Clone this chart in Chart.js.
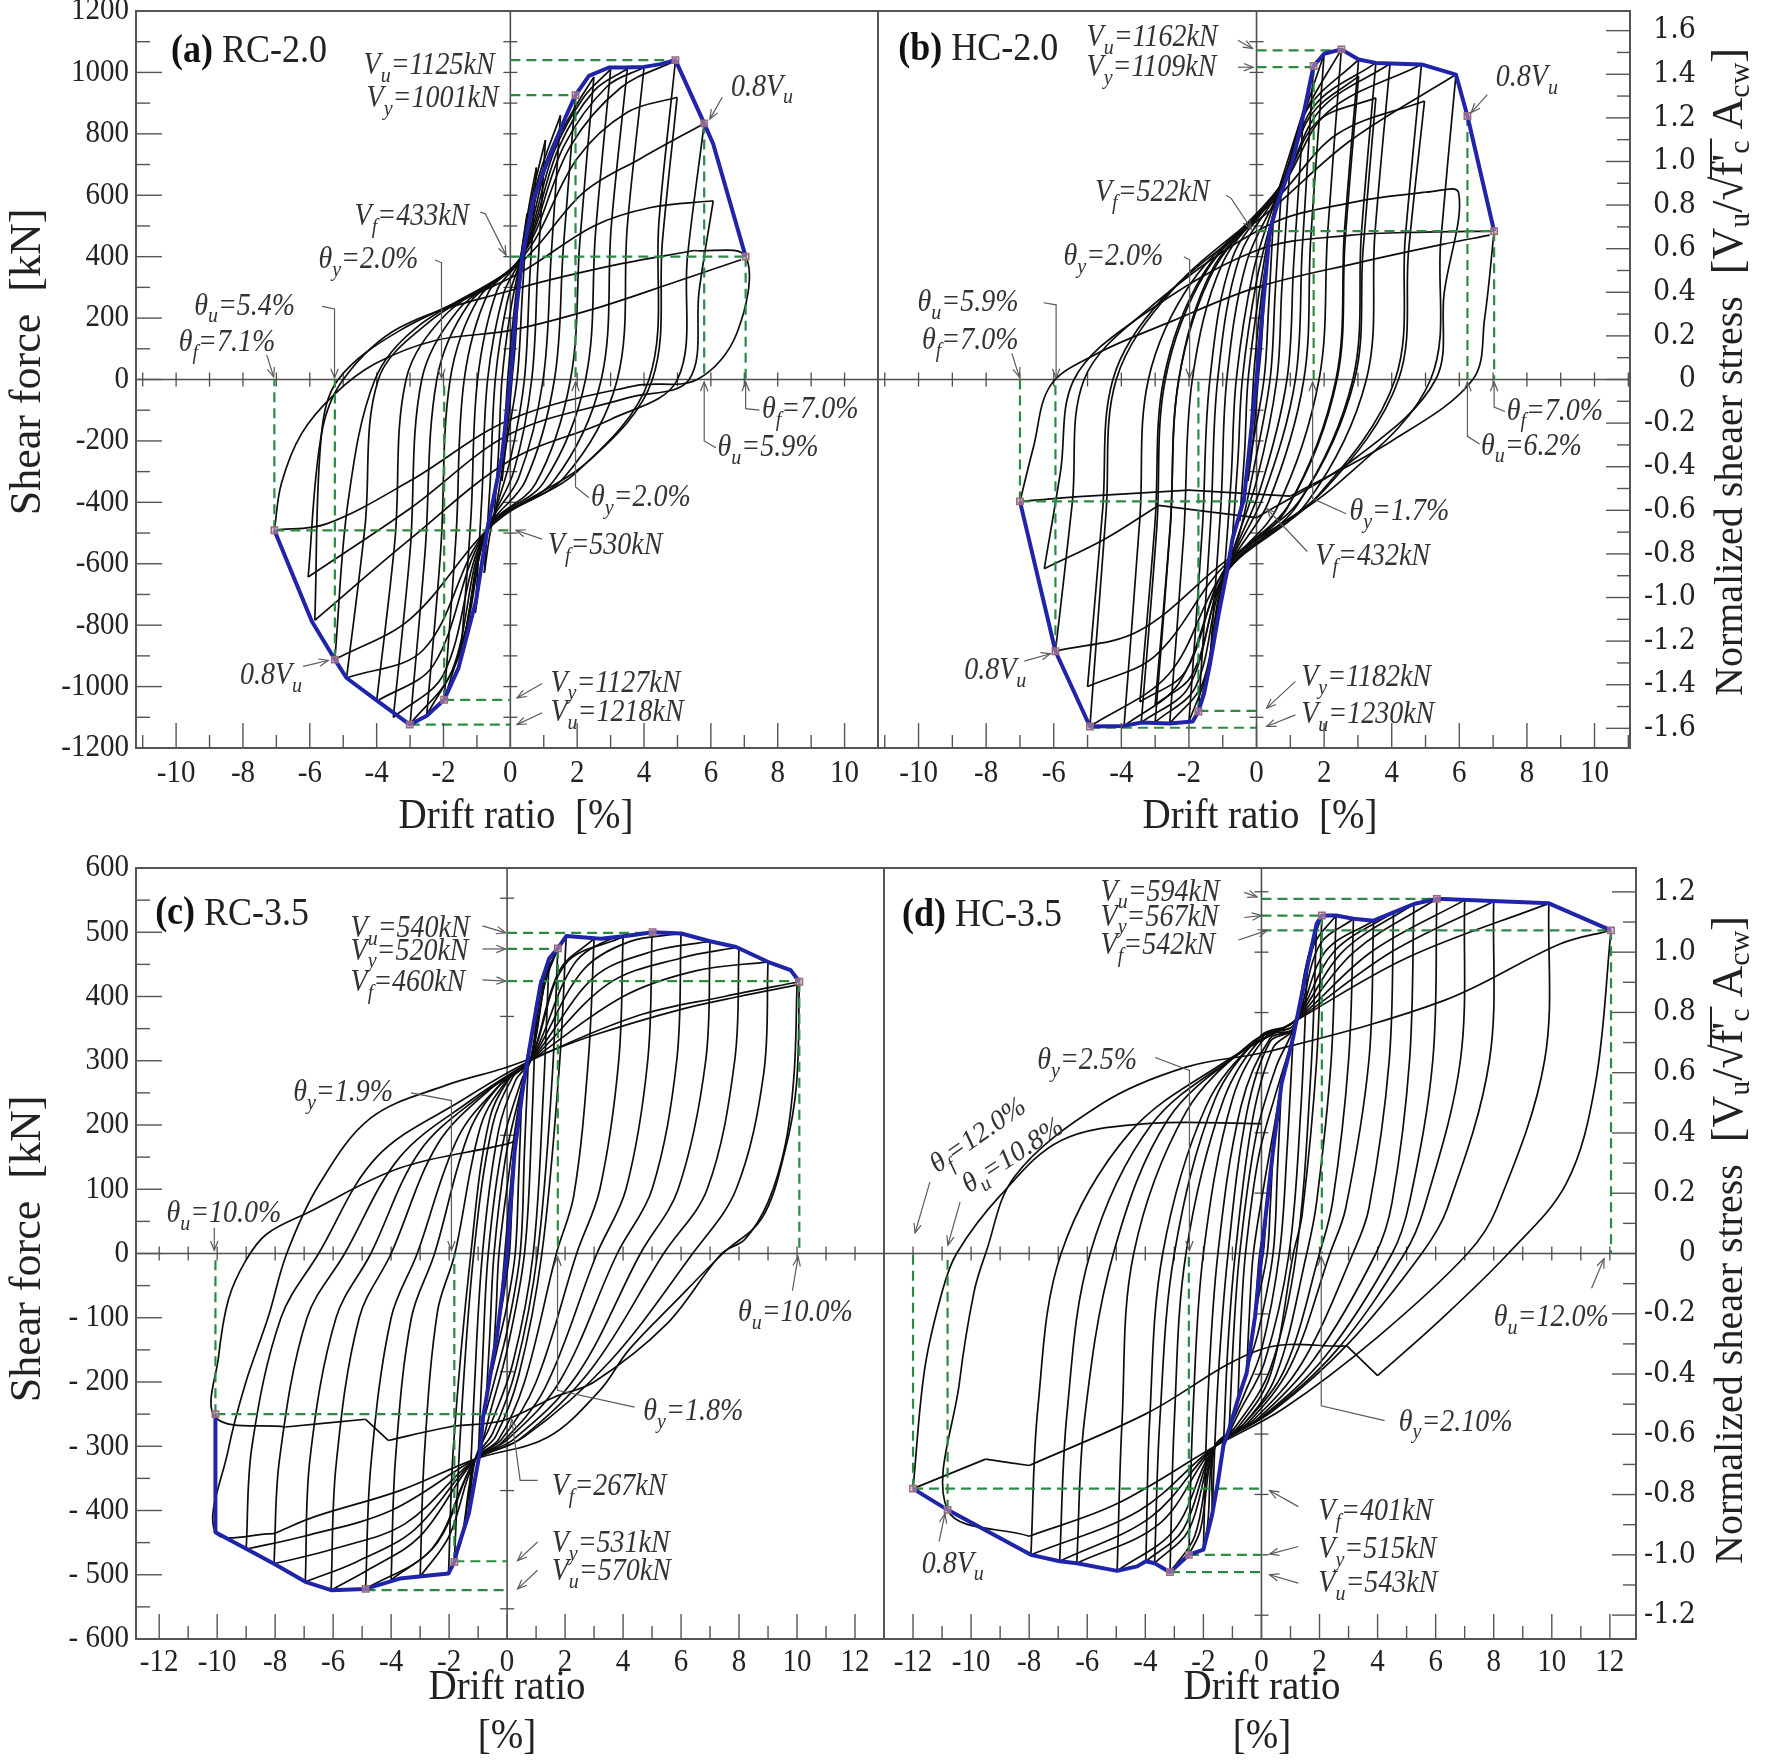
<!DOCTYPE html>
<html>
<head>
<meta charset="utf-8">
<title>Hysteresis curves RC/HC walls</title>
<script src="https://cdn.jsdelivr.net/npm/chart.js@4.4.1/dist/chart.umd.min.js"></script>
<style>
  html, body { margin:0; padding:0; background:#fff; }
  #wrap { position:relative; width:1772px; height:1764px; overflow:hidden; background:#fff; }
  #wrap canvas { position:absolute; left:0; top:0; }
</style>
</head>
<body>
<div id="wrap">
  <canvas id="cA" width="1772" height="1764"></canvas>
  <canvas id="cB" width="1772" height="1764"></canvas>
  <canvas id="cC" width="1772" height="1764"></canvas>
  <canvas id="cD" width="1772" height="1764"></canvas>
</div>
<script>
// ---------------- DATA ----------------
const xLabelsAB = [-10,-8,-6,-4,-2,0,2,4,6,8,10];
const xLabelsCD = [-12,-10,-8,-6,-4,-2,0,2,4,6,8,10,12];
const yLabelsA  = [-1200,-1000,-800,-600,-400,-200,0,200,400,600,800,1000,1200];
const yLabelsC  = [-600,-500,-400,-300,-200,-100,0,100,200,300,400,500,600];
const rLabelsB  = [-1.6,-1.4,-1.2,-1.0,-0.8,-0.6,-0.4,-0.2,0,0.2,0.4,0.6,0.8,1.0,1.2,1.4,1.6];
const rLabelsD  = [-1.2,-1.0,-0.8,-0.6,-0.4,-0.2,0,0.2,0.4,0.6,0.8,1.0,1.2];

// blue envelopes [drift %, shear kN]
const envA = [[7.04,400],[6.07,767],[5.8,834],[4.94,1040],[4.5,1027],[4.0,1018],[3.43,1016],[2.95,1016],[2.35,989],[1.95,926],[1.65,854],[1.33,767],[1.0,680],[0.68,582],[0.36,400],[0.15,200],[0,0],[-0.25,-250],[-0.69,-488],[-1.03,-722],[-1.55,-939],[-1.98,-1043],[-2.5,-1095],[-3.01,-1124],[-3.96,-1048],[-4.9,-972],[-5.25,-912],[-5.94,-787],[-7.06,-491]];
const envB = [[7.03,483],[6.24,858],[5.9,993],[4.88,1026],[3.53,1031],[3.02,1042],[2.51,1075],[2.0,1061],[1.69,1021],[1.58,966],[1.41,874],[1.07,711],[0.64,581],[0.39,483],[0,0],[-0.37,-388],[-0.71,-519],[-0.88,-628],[-1.13,-770],[-1.39,-934],[-1.55,-1021],[-1.72,-1081],[-1.89,-1114],[-2.57,-1120],[-3.41,-1117],[-3.92,-1128],[-4.93,-1130],[-5.95,-885],[-7.0,-397]];
const envC = [[10.08,423],[9.78,441],[8.99,454],[7.9,477],[7.0,486],[6.01,498],[5.02,500],[4.23,495],[3.23,490],[2.04,494],[1.75,475],[1.45,459],[1.15,418],[0.85,340],[0.56,262],[0.26,159],[0,0],[-0.34,-125],[-0.63,-203],[-0.83,-255],[-0.93,-307],[-1.32,-405],[-1.72,-462],[-1.82,-480],[-2.02,-498],[-3.7,-506],[-4.88,-522],[-6.07,-524],[-6.96,-511],[-8.04,-483],[-10.06,-434],[-10.06,-250]];
const envD = [[12.04,503],[9.9,545],[6.04,552],[5.25,544],[4.55,531],[3.86,518],[3.17,521],[2.57,526],[2.08,526],[1.9,513],[1.58,446],[1.09,336],[0.69,264],[0.4,161],[0,0],[-0.22,-98],[-0.51,-186],[-0.81,-227],[-1.11,-273],[-1.31,-299],[-1.5,-356],[-1.7,-407],[-2.0,-461],[-2.5,-469],[-3.15,-496],[-3.68,-482],[-3.98,-479],[-4.28,-487],[-4.97,-494],[-6.36,-482],[-6.95,-479],[-7.94,-469],[-10.81,-399],[-12.0,-366]];

// characteristic points (small square markers)
const markA = [[1.95,926],[4.94,1040],[5.8,834],[7.04,400],[-1.98,-1043],[-3.01,-1124],[-5.25,-912],[-7.06,-491]];
const markB = [[1.69,1021],[2.51,1075],[6.24,858],[7.03,483],[-1.72,-1081],[-4.93,-1130],[-5.95,-885],[-7.0,-397]];
const markC = [[1.75,475],[5.02,500],[10.08,423],[-1.82,-480],[-4.88,-522],[-10.06,-250]];
const markD = [[2.08,526],[6.04,552],[12.04,503],[-2.5,-469],[-3.15,-496],[-10.81,-399],[-12.0,-366]];

// green dashed reference lines
const dashA = [[[0,1040],[4.94,1040]],[[0,926],[1.95,926]],[[1.95,926],[1.95,0]],[[0,400],[7.04,400]],[[5.8,834],[5.8,0]],[[7.04,400],[7.04,0]],[[-7.06,-491],[0,-491]],[[-7.06,-491],[-7.06,0]],[[-5.25,-912],[-5.25,0]],[[-1.98,-1043],[-1.98,0]],[[-1.98,-1043],[0,-1043]],[[-3.01,-1124],[0,-1124]]];
const dashB = [[[0,1072],[2.51,1072]],[[0,1017],[1.69,1017]],[[1.69,1021],[1.69,0]],[[0,483],[7.03,483]],[[6.24,858],[6.24,0]],[[7.03,483],[7.03,0]],[[-7.0,-397],[0,-397]],[[-7.0,-397],[-7.0,0]],[[-5.95,-885],[-5.95,0]],[[-1.72,-1081],[-1.72,0]],[[-1.72,-1079],[0,-1079]],[[-4.93,-1134],[0,-1134]]];
const dashC = [[[0,499],[5.02,499]],[[0,474],[1.75,474]],[[0,424],[10.08,424]],[[1.75,475],[1.75,0]],[[10.08,423],[10.08,0]],[[-10.06,-250],[0,-250]],[[-10.06,-250],[-10.06,0]],[[-1.82,-480],[-1.82,0]],[[-1.82,-479],[0,-479]],[[-4.88,-524],[0,-524]]];
const dashD = [[[0,552],[6.04,552]],[[0,526],[2.08,526]],[[0,503],[12.04,503]],[[2.08,526],[2.08,0]],[[12.04,503],[12.04,0]],[[-12.0,-366],[0,-366]],[[-12.0,-366],[-12.0,0]],[[-10.81,-399],[-10.81,0]],[[-2.5,-469],[-2.5,0]],[[-2.5,-469],[0,-469]],[[-3.15,-496],[0,-496]]];

// hysteresis history (points read along the loops)
const loopsA = [
[0,0],[0.12,180],[0.25,310],[0.15,120],[0.05,0],[-0.1,-180],[-0.25,-330],
[-0.15,-120],[-0.05,40],[0.15,260],[0.3,390],[0.5,540],[0.35,260],[0.2,0],[-0.15,-230],[-0.5,-470],
[-0.35,-230],[-0.25,0],[0.0,220],[0.3,390],[0.55,560],[0.78,690],[0.58,330],[0.42,0],[0.0,-260],[-0.55,-470],[-0.78,-630],
[-0.6,-330],[-0.45,0],[-0.1,250],[0.3,392],[0.7,620],[1.05,780],[0.82,360],[0.64,0],[0.1,-300],[-0.65,-485],[-1.05,-760],
[-0.85,-380],[-0.68,0],[-0.2,280],[0.3,395],[0.85,660],[1.5,860],[1.22,400],[0.98,0],[0.25,-320],[-0.7,-488],[-1.5,-920],
[-1.18,-450],[-0.98,0],[-0.4,290],[0.3,395],[1.0,690],[1.95,926],[1.58,420],[1.32,0],[0.45,-330],[-0.7,-490],[-1.25,-780],[-1.98,-1043],
[-1.62,-500],[-1.38,0],[-0.65,285],[0.3,395],[1.15,720],[1.9,880],[2.5,985],[2.08,450],[1.8,0],[0.75,-340],[-0.7,-490],[-1.5,-890],[-2.5,-1092],
[-2.08,-550],[-1.8,0],[-0.95,265],[0.3,395],[1.3,740],[2.2,920],[3.0,1010],[2.55,480],[2.25,0],[1.0,-335],[-0.7,-490],[-1.75,-950],[-3.0,-1122],
[-2.55,-560],[-2.2,0],[-1.25,245],[0.3,395],[1.45,755],[2.5,940],[3.5,1012],[3.02,500],[2.72,0],[1.3,-330],[-0.7,-490],[-2.0,-960],[-3.5,-1100],
[-3.0,-560],[-2.65,0],[-1.55,228],[0.3,395],[1.6,760],[2.9,955],[4.0,1016],[3.5,500],[3.2,0],[1.6,-320],[-0.7,-490],[-2.3,-930],[-4.0,-1048],
[-3.45,-520],[-3.12,0],[-1.95,210],[0.3,395],[1.8,760],[3.3,950],[4.94,1038],[4.45,520],[4.15,0],[2.0,-300],[-0.7,-490],[-2.6,-880],[-4.9,-972],
[-4.35,-480],[-3.95,0],[-2.4,190],[0.3,390],[2.0,720],[3.5,870],[4.99,919],[4.55,450],[4.25,0],[2.4,-260],[-0.5,-470],[-3.0,-780],[-5.25,-912],
[-4.85,-394],[-4.05,0],[-2.8,170],[0.3,380],[2.2,610],[3.9,720],[5.8,834],[5.3,400],[5.0,0],[3.0,-130],[0,-263],[-3.0,-520],[-5.85,-784],
[-5.65,-177],[-5.15,0],[-3.3,160],[0.25,345],[2.5,500],[4.2,560],[6.07,582],[5.65,290],[5.35,0],[3.5,-60],[0,-177],[-3,-420],[-6.05,-643],
[-5.65,-177],[-5.0,0],[-3.3,170],[0,290],[3.0,370],[5.5,420],[7.04,400],[6.77,149],[5.59,0],[3.75,-20],[0,-130],[-3.0,-330],[-5.5,-470],[-7.06,-491],
[-6.85,-339],[-6.25,-177],[-5.25,-47],[-4.05,51],[-2.25,127],[0,160],[2.5,230],[5.0,320],[6.9,390]
];
const loopsB = [
[0,0],[0.12,180],[0.25,330],[0.15,120],[0.05,0],[-0.1,-200],[-0.25,-330],
[-0.15,-120],[-0.05,60],[0.2,320],[0.5,530],[0.35,220],[0.22,0],[-0.2,-260],[-0.5,-460],
[-0.35,-230],[-0.25,0],[0.1,300],[0.45,520],[0.75,650],[0.55,280],[0.4,0],[-0.1,-300],[-0.5,-500],[-0.75,-570],
[-0.55,-260],[-0.42,0],[0.0,320],[0.5,540],[1.0,710],[0.75,300],[0.6,0],[0.0,-330],[-0.7,-560],[-1.0,-700],
[-0.75,-320],[-0.6,0],[-0.1,350],[0.6,600],[1.4,880],[1.1,380],[0.9,0],[0.1,-360],[-0.85,-620],[-1.39,-934],
[-1.05,-400],[-0.88,0],[-0.3,380],[0.7,620],[1.2,790],[1.69,1021],[1.35,420],[1.15,0],[0.2,-380],[-0.9,-630],[-1.3,-880],[-1.72,-1081],
[-1.35,-450],[-1.15,0],[-0.5,400],[0.7,625],[1.3,830],[2.0,1060],[1.6,450],[1.4,0],[0.35,-400],[-0.9,-630],[-1.45,-950],[-2.0,-1114],
[-1.6,-480],[-1.38,0],[-0.7,400],[0.7,630],[1.4,860],[2.51,1075],[2.1,470],[1.85,0],[0.6,-420],[-0.9,-630],[-1.6,-990],[-2.57,-1120],
[-2.15,-500],[-1.9,0],[-1.0,380],[0.7,630],[1.5,880],[3.02,1042],[2.6,480],[2.35,0],[0.9,-420],[-0.9,-630],[-1.8,-1000],[-3.0,-1116],
[-2.55,-480],[-2.3,0],[-1.25,360],[0.7,625],[1.6,860],[3.02,988],[2.62,450],[2.38,0],[1.0,-400],[-0.9,-620],[-1.9,-960],[-3.0,-1060],
[-2.55,-470],[-2.3,0],[-1.3,360],[0.7,630],[1.7,890],[3.53,1031],[3.1,470],[2.85,0],[1.2,-410],[-0.9,-630],[-2.0,-1000],[-3.41,-1117],
[-2.95,-480],[-2.7,0],[-1.5,350],[0.7,620],[1.8,840],[3.53,917],[3.15,420],[2.9,0],[1.3,-390],[-0.9,-610],[-2.1,-950],[-3.45,-1050],
[-3.0,-460],[-2.75,0],[-1.6,340],[0.7,630],[1.9,880],[3.95,1028],[3.5,470],[3.25,0],[1.5,-400],[-0.9,-630],[-2.3,-990],[-3.92,-1128],
[-3.45,-450],[-3.2,0],[-1.9,320],[0.7,620],[2.1,870],[4.88,1026],[4.4,460],[4.1,0],[1.8,-380],[-0.9,-620],[-2.6,-960],[-4.93,-1130],
[-4.45,-430],[-4.15,0],[-2.5,290],[0.6,590],[2.4,800],[4.97,907],[4.5,420],[4.2,0],[2.0,-360],[-0.9,-600],[-3.0,-900],[-5.0,-1000],
[-4.55,-420],[-4.25,0],[-2.8,260],[0.5,560],[2.8,780],[5.9,993],[5.45,450],[5.15,0],[2.5,-330],[-0.9,-590],[-3.5,-820],[-5.95,-885],
[-5.45,-400],[-5.1,0],[-3.2,230],[0.3,500],[3.0,580],[5.0,610],[5.98,608],[5.55,280],[5.3,0],[3.0,-250],[0.0,-450],[-2.9,-410],[-4.5,-520],[-6.28,-616],
[-5.8,-300],[-5.4,0],[-3.5,200],[0.0,420],[2.8,470],[5.0,480],[7.03,483],[6.75,200],[6.4,0],[4.0,-200],[1.0,-380],[-2.0,-360],[-5.0,-380],[-7.0,-397],
[-6.6,-220],[-6.1,-20],[-4.8,80],[-2.5,190],[0,300],[3,380],[5.5,440],[6.9,470]
];
const loopsC = [
[0,0],[0.12,80],[0.25,150],[0.15,60],[0.08,0],[-0.1,-60],[-0.25,-100],
[-0.15,-40],[-0.08,0],[0.15,120],[0.35,200],[0.5,240],[0.4,120],[0.28,0],[0.0,-80],[-0.3,-140],[-0.5,-180],
[-0.38,-90],[-0.28,0],[0.05,120],[0.4,230],[0.75,320],[0.6,160],[0.45,0],[0.0,-120],[-0.45,-200],[-0.75,-250],
[-0.6,-130],[-0.45,0],[-0.05,150],[0.45,250],[0.8,320],[1.0,390],[0.85,200],[0.6,0],[0.0,-150],[-0.6,-250],[-1.0,-320],
[-0.85,-170],[-0.65,0],[-0.15,170],[0.5,270],[0.8,300],[1.15,400],[1.45,459],[1.25,250],[0.9,0],[0.2,-170],[-0.6,-270],[-1.1,-320],[-1.32,-405],
[-1.15,-230],[-0.85,0],[-0.3,190],[0.3,270],[0.8,300],[1.3,420],[1.75,475],[1.55,270],[1.05,0],[0.3,-180],[-0.5,-280],[-1.1,-320],[-1.5,-430],[-1.82,-480],
[-1.6,-270],[-1.15,0],[-0.5,200],[0.2,275],[0.8,300],[1.4,440],[2.04,494],[1.8,290],[1.2,0],[0.4,-190],[-0.4,-285],[-1.1,-320],[-1.6,-450],[-2.02,-498],
[-1.85,-300],[-1.25,0],[-0.6,210],[0.2,280],[0.8,300],[1.8,440],[3.0,490],[2.8,300],[2.3,90],[1.7,0],[0.6,-200],[-0.3,-290],[-1.1,-320],[-2.0,-440],[-3.0,-503],
[-2.85,-310],[-2.4,-90],[-1.8,0],[-0.9,200],[0.0,270],[0.8,300],[2.0,450],[4.0,493],[3.85,300],[3.2,100],[2.4,0],[1.0,-200],[-0.2,-290],[-1.1,-320],[-2.4,-450],[-4.0,-508],
[-3.85,-320],[-3.3,-100],[-2.5,0],[-1.3,190],[-0.2,265],[0.8,300],[2.3,450],[3.6,490],[5.0,500],[4.85,300],[4.1,100],[3.1,0],[1.3,-210],[-0.2,-295],[-1.1,-320],[-2.6,-460],[-4.88,-522],
[-4.7,-330],[-4.0,-100],[-3.1,0],[-1.7,180],[-0.3,260],[0.8,300],[2.6,440],[4.2,485],[6.0,498],[5.85,300],[5.0,100],[3.8,0],[1.8,-200],[0.0,-290],[-1.1,-320],[-3.0,-440],[-4.7,-490],[-6.07,-524],
[-5.9,-330],[-5.1,-100],[-4.0,0],[-2.4,170],[-0.6,255],[0.8,300],[3.0,430],[5.0,470],[7.0,486],[6.85,300],[5.9,100],[4.6,0],[2.4,-190],[0.2,-290],[-1.1,-320],[-3.2,-430],[-5.2,-480],[-6.96,-511],
[-6.8,-320],[-5.9,-100],[-4.7,0],[-3.0,160],[-0.8,250],[0.8,300],[3.5,420],[6.0,460],[8.0,477],[7.85,300],[6.9,100],[5.4,0],[2.9,-180],[0.4,-290],[-1.1,-320],[-3.5,-420],[-6.0,-460],[-8.04,-483],
[-7.85,-320],[-6.9,-100],[-5.6,0],[-3.7,150],[-1.2,240],[0.8,300],[4.0,400],[6.5,440],[9.0,454],[8.85,280],[7.9,100],[6.4,0],[3.5,-170],[0.6,-285],[-1.1,-320],[-4.0,-400],[-7.0,-440],[-9.0,-460],
[-8.8,-300],[-7.8,-100],[-6.5,0],[-4.5,150],[-1.5,240],[0.8,300],[4.5,370],[7.5,400],[10.08,423],[9.98,262],[9.58,159],[8.79,55],[7.44,0],[5.8,-75],[4.2,-150],[3.2,-213],[1.4,-286],[-1.1,-320],[-3.7,-369],[-6.66,-410],[-8.04,-436],[-10.06,-434],
[-9.62,-306],[-9.03,-203],[-8.24,-99],[-7.6,0],[-6.49,107],[-4.7,211],[-2.1,262],[-0.14,288],[0.85,304],[3.0,340],[6.0,380],[8.0,400],[10.0,418],[9.9,280],[9.6,170],[9.0,80],[8.2,22],[7.4,0],[5.5,-110],[3.0,-200],[1.6,-224],[-0.14,-260],[-2.0,-270],[-4.1,-291],[-4.88,-258],[-7.65,-270],[-10.06,-255],
[-9.95,-160],[-9.6,-70],[-9.0,-10],[-8.3,30],[-6.9,63],[-3.7,133],[-0.14,169],[0.3,175]
];
const loopsD = [
[0,0],[0.1,40],[0.2,80],[0.12,30],[0.06,0],[-0.1,-45],[-0.22,-98],
[-0.14,-40],[-0.06,0],[0.15,60],[0.4,161],[0.3,70],[0.2,0],[-0.15,-80],[-0.51,-186],
[-0.4,-80],[-0.28,0],[0.1,110],[0.45,200],[0.69,264],[0.55,130],[0.4,0],[-0.1,-120],[-0.5,-180],[-0.81,-227],
[-0.7,-100],[-0.55,0],[-0.1,150],[0.5,250],[1.09,336],[0.88,160],[0.62,0],[0.0,-150],[-0.6,-220],[-1.11,-273],
[-0.95,-120],[-0.75,0],[-0.2,180],[0.5,290],[1.1,350],[1.58,446],[1.35,220],[0.95,0],[0.1,-170],[-0.8,-250],[-1.31,-299],
[-1.15,-140],[-0.9,0],[-0.3,210],[0.4,320],[1.1,350],[1.5,440],[1.9,513],[1.7,280],[1.2,0],[0.3,-180],[-0.9,-270],[-1.6,-300],[-1.7,-407],
[-1.5,-200],[-1.15,0],[-0.5,220],[0.3,330],[1.1,350],[1.6,460],[2.08,526],[1.9,300],[1.4,60],[1.1,0],[0.3,-190],[-0.8,-270],[-1.6,-300],[-1.85,-420],[-2.0,-461],
[-1.85,-230],[-1.5,0],[-0.7,230],[0.3,335],[1.1,350],[1.8,480],[2.57,526],[2.4,300],[1.9,80],[1.56,0],[0.5,-190],[-0.7,-270],[-1.6,-300],[-2.1,-430],[-2.5,-469],
[-2.35,-240],[-2.0,0],[-1.0,240],[0.2,340],[1.1,350],[2.0,480],[3.17,521],[3.0,300],[2.45,80],[2.0,0],[0.8,-180],[-0.6,-265],[-1.6,-300],[-2.3,-440],[-3.15,-496],
[-3.0,-260],[-2.6,0],[-1.3,240],[0.1,340],[1.1,355],[2.2,470],[3.86,518],[3.7,300],[2.9,70],[2.36,0],[1.0,-175],[-0.5,-265],[-1.6,-300],[-2.5,-430],[-3.68,-482],
[-3.5,-260],[-3.0,0],[-1.6,240],[0.0,340],[1.1,360],[2.5,470],[4.55,531],[4.4,300],[3.7,70],[3.15,0],[1.4,-170],[-0.3,-260],[-1.6,-300],[-2.7,-430],[-3.98,-479],
[-3.85,-260],[-3.4,0],[-1.9,230],[-0.1,335],[1.1,360],[2.8,470],[5.25,544],[5.1,300],[4.5,80],[3.94,0],[1.8,-165],[-0.2,-260],[-1.6,-300],[-3.0,-430],[-4.97,-494],
[-4.8,-260],[-4.4,0],[-2.6,220],[-0.3,330],[1.1,360],[3.2,470],[6.04,552],[5.9,300],[5.1,80],[4.5,0],[2.2,-160],[0.0,-255],[-1.6,-300],[-3.5,-420],[-6.36,-482],
[-6.1,-260],[-5.1,0],[-3.2,210],[-0.5,320],[1.1,360],[3.8,470],[7.0,550],[6.85,300],[5.6,70],[4.93,0],[2.6,-150],[0.2,-250],[-1.6,-300],[-3.8,-410],[-6.95,-479],
[-6.7,-250],[-5.9,0],[-3.8,200],[-0.8,310],[1.1,360],[4.5,470],[8.0,548],[7.85,300],[6.4,70],[5.52,0],[3.0,-140],[0.4,-245],[-1.6,-300],[-4.2,-400],[-7.94,-469],
[-7.7,-240],[-6.9,0],[-4.5,190],[-1.2,300],[1.1,360],[5.0,460],[9.9,545],[9.75,300],[8.1,70],[7.1,0],[4.0,-130],[0.8,-240],[-1.6,-300],[-5.0,-390],[-8.0,-440],[-10.81,-399],
[-10.4,-200],[-9.9,-60],[-9.5,0],[-8.5,120],[-5.5,233],[-2.6,290],[0.4,316],[6.3,394],[10.3,482],[12.04,503],[11.5,264],[10.5,109],[8.5,0],[6.0,-110],[4.0,-190],[2.95,-144],[0,-149],[-4.0,-250],[-8.0,-330],[-9.5,-320],[-12.0,-366],
[-11.6,-180],[-11.0,-60],[-10.5,0],[-9.0,90],[-6.9,176],[-3.96,202],[0,202]
];

// ---------------- LAYOUT / TEXT ----------------
const SERIF = '"Liberation Serif","Times New Roman",serif';
const STRETCH = 1.1;

const annA = [
 {t:'V_{u}=1125kN', x:-4.39, y:1022}, {t:'V_{y}=1001kN', x:-4.3, y:913},
 {t:'0.8V_{u}', x:6.6, y:951}, {t:'V_{f}=433kN', x:-4.66, y:528},
 {t:'θ_{y}=2.0%', x:-5.74, y:389}, {t:'θ_{u}=5.4%', x:-9.46, y:238},
 {t:'θ_{f}=7.1%', x:-9.92, y:119}, {t:'θ_{f}=7.0%', x:7.53, y:-100},
 {t:'θ_{u}=5.9%', x:6.2, y:-222}, {t:'θ_{y}=2.0%', x:2.41, y:-385},
 {t:'V_{f}=530kN', x:1.12, y:-542}, {t:'0.8V_{u}', x:-8.09, y:-966},
 {t:'V_{y}=1127kN', x:1.2, y:-990}, {t:'V_{u}=1218kN', x:1.2, y:-1085}
];
const leadA = [
 [[6.34,919],[5.97,848]], [[-0.9,545],[-0.75,540],[-0.13,405]],
 [[-2.25,389],[-2.06,380],[-2.06,5]], [[-5.63,238],[-5.26,230],[-5.26,5]],
 [[-7.29,80],[-7.08,8]], [[7.45,-100],[7.04,-95],[7.04,-8]],
 [[6.15,-222],[5.8,-200],[5.8,-8]], [[2.35,-385],[1.95,-350],[1.95,-8]],
 [[0.95,-520],[0.17,-491]], [[-6.2,-934],[-5.45,-915]],
 [[0.95,-990],[0.2,-1037]], [[0.95,-1085],[0.2,-1124]]
];
const annB = [
 {t:'V_{u}=1162kN', x:-5.03, y:1113}, {t:'V_{y}=1109kN', x:-5.03, y:1015},
 {t:'0.8V_{u}', x:7.08, y:983}, {t:'V_{f}=522kN', x:-4.78, y:608},
 {t:'θ_{y}=2.0%', x:-5.71, y:400}, {t:'θ_{u}=5.9%', x:-10.03, y:250},
 {t:'θ_{f}=7.0%', x:-9.9, y:125}, {t:'θ_{f}=7.0%', x:7.4, y:-104},
 {t:'θ_{u}=6.2%', x:6.64, y:-218}, {t:'θ_{y}=1.7%', x:2.75, y:-431},
 {t:'V_{f}=432kN', x:1.74, y:-579}, {t:'0.8V_{u}', x:-8.65, y:-950},
 {t:'V_{y}=1182kN', x:1.32, y:-972}, {t:'V_{u}=1230kN', x:1.32, y:-1092}
];
const leadB = [
 [[-0.55,1105],[-0.12,1078]], [[-0.55,1017],[-0.1,1017]], [[6.83,928],[6.35,869]],
 [[-0.9,600],[-0.75,590],[-0.15,490]], [[-2.15,400],[-1.98,390],[-1.98,5]],
 [[-6.3,250],[-5.93,243],[-5.93,5]], [[-7.24,85],[-7.02,8]],
 [[7.35,-104],[7.03,-90],[7.03,-8]], [[6.6,-210],[6.24,-185],[6.24,-8]],
 [[2.65,-437],[1.66,-388],[1.66,-8]], [[1.5,-560],[0.3,-420]],
 [[-6.87,-917],[-6.1,-893]], [[1.15,-983],[0.3,-1070]], [[1.15,-1092],[0.3,-1130]]
];
const annC = [
 {t:'V_{u}=540kN', x:-5.4, y:505}, {t:'V_{y}=520kN', x:-5.4, y:470},
 {t:'V_{f}=460kN', x:-5.4, y:421}, {t:'θ_{y}=1.9%', x:-7.38, y:250},
 {t:'θ_{u}=10.0%', x:-11.75, y:62}, {t:'θ_{u}=10.0%', x:7.96, y:-92},
 {t:'θ_{y}=1.8%', x:4.7, y:-247}, {t:'V_{f}=267kN', x:1.54, y:-364},
 {t:'V_{y}=531kN', x:1.54, y:-452}, {t:'V_{u}=570kN', x:1.54, y:-496}
];
const leadC = [
 [[-0.85,510],[-0.05,499]], [[-0.85,474],[-0.05,474]], [[-0.85,426],[-0.05,424]],
 [[-3.31,250],[-1.92,238],[-1.92,5]], [[-10.1,40],[-10.1,5]], [[9.84,-58],[10.04,-5]],
 [[4.4,-239],[1.74,-213],[1.74,-5]], [[1.05,-353],[0.45,-353],[0.16,-258]],
 [[1.05,-449],[0.36,-478]], [[1.05,-493],[0.36,-522]]
];
const annD = [
 {t:'V_{u}=594kN', x:-5.54, y:562}, {t:'V_{y}=567kN', x:-5.54, y:523},
 {t:'V_{f}=542kN', x:-5.54, y:479}, {t:'θ_{y}=2.5%', x:-7.72, y:300},
 {t:'θ_{f}=12.0%', x:-11.31, y:134, rot:-35}, {t:'θ_{u}=10.8%', x:-10.21, y:103, rot:-33},
 {t:'θ_{u}=12.0%', x:8.0, y:-100}, {t:'θ_{y}=2.10%', x:4.73, y:-263},
 {t:'V_{f}=401kN', x:1.96, y:-402}, {t:'V_{y}=515kN', x:1.96, y:-461},
 {t:'V_{u}=543kN', x:1.96, y:-515}, {t:'0.8V_{u}', x:-11.7, y:-484}
];
const leadD = [
 [[-0.59,562],[-0.15,555]], [[-0.59,523],[0,526]], [[-0.79,488],[0.2,503]],
 [[-3.66,305],[-2.48,285],[-2.48,5]], [[-11.42,111],[-11.93,32]], [[-10.38,80],[-10.8,13]],
 [[11.37,-54],[11.8,-8]], [[4.24,-260],[2.06,-237],[2.06,-5]],
 [[1.27,-394],[0.28,-369]], [[1.27,-456],[0.28,-468]], [[1.27,-513],[0.28,-500]],
 [[-11.1,-448],[-10.9,-405]]
];

const panels = [
 { id:'cA', area:{l:136,t:11,r:878,b:748}, xmin:-11.2, xmax:11.0, ymin:-1200, ymax:1200,
   env:envA, loops:loopsA, dash:dashA, mark:markA, ann:annA, lead:leadA,
   xLabels:xLabelsAB, yLabels:yLabelsA, yFmt:v=>String(v), leftMinor:100, leftMajor:200,
   zeroY:[-1100,-1000,-900,-800,-700,-600,-500,-400,-300,-200,-100,100,200,300,400,500,600,700,800,900,1000,1100],
   label:{b:'(a)', r:' RC-2.0', x:-10.15, y:1068}, xLabDy:26,
   titles:[{t:'Shear force  [kN]', x:28, y:362, s:44, rot:true},{t:'Drift ratio  [%]', x:516, y:817, s:39}] },
 { id:'cB', area:{l:878,t:11,r:1630,b:748}, xmin:-11.2, xmax:11.05, ymin:-1200, ymax:1200,
   env:envB, loops:loopsB, dash:dashB, mark:markB, ann:annB, lead:leadB,
   xLabels:xLabelsAB, rFactor:710, rLabels:rLabelsB, rMax:16,
   zeroY:[-1100,-1000,-900,-800,-700,-600,-500,-400,-300,-200,-100,100,200,300,400,500,600,700,800,900,1000,1100],
   label:{b:'(b)', r:' HC-2.0', x:-10.6, y:1075}, xLabDy:26, normTitle:{x:1729, y:372},
   titles:[{t:'Drift ratio  [%]', x:1260, y:817, s:39}] },
 { id:'cC', area:{l:136,t:868,r:884,b:1639}, xmin:-12.8, xmax:13.0, ymin:-600, ymax:600,
   env:envC, loops:loopsC, dash:dashC, mark:markC, ann:annC, lead:leadC,
   xLabels:xLabelsCD, yLabels:yLabelsC, yFmt:v=> v<0 ? '- '+(-v) : String(v), leftMinor:50, leftMajor:100,
   zeroY:[-553,-369,-184,184,369,553],
   label:{b:'(c)', r:' RC-3.5', x:-12.14, y:528}, xLabDy:24,
   titles:[{t:'Shear force  [kN]', x:28, y:1249, s:44, rot:true},{t:'Drift ratio', x:507, y:1688, s:39},{t:'[%]', x:507, y:1737, s:39}] },
 { id:'cD', area:{l:884,t:868,r:1636,b:1639}, xmin:-13.0, xmax:12.9, ymin:-600, ymax:600,
   env:envD, loops:loopsD, dash:dashD, mark:markD, ann:annD, lead:leadD,
   xLabels:xLabelsCD, rFactor:469, rLabels:rLabelsD, rMax:12,
   zeroY:[-563,-469,-375,-281,-188,-94,94,188,281,375,469,563],
   label:{b:'(d)', r:' HC-3.5', x:-12.38, y:526}, xLabDy:24, normTitle:{x:1729, y:1240},
   titles:[{t:'Drift ratio', x:1262, y:1688, s:39},{t:'[%]', x:1262, y:1737, s:39}] }
];

// ---------------- helpers ----------------
function seg(ctx, x1, y1, x2, y2) { ctx.beginPath(); ctx.moveTo(x1, y1); ctx.lineTo(x2, y2); ctx.stroke(); }

function drawRich(ctx, str, x, y, size, o) {
  o = o || {};
  const parts = []; const re = /_\{([^}]*)\}/g; let last = 0, m;
  while ((m = re.exec(str))) {
    if (m.index > last) parts.push({t: str.slice(last, m.index), sub:false});
    parts.push({t: m[1], sub:true}); last = re.lastIndex;
  }
  if (last < str.length) parts.push({t: str.slice(last), sub:false});
  const style = (o.italic ? 'italic ' : '') + (o.bold ? 'bold ' : '');
  const fontFor = p => style + (p.sub ? Math.round(size * 0.72) : size) + 'px ' + SERIF;
  let w = 0;
  parts.forEach(p => { ctx.font = fontFor(p); p.w = ctx.measureText(p.t).width; w += p.w; });
  ctx.save();
  ctx.translate(x, y);
  if (o.rot) ctx.rotate(o.rot);
  ctx.scale(1, o.stretch || STRETCH);
  let cx = o.align === 'right' ? -w : (o.align === 'center' ? -w / 2 : 0);
  ctx.fillStyle = o.color || '#222';
  ctx.textBaseline = 'middle';
  parts.forEach(p => { ctx.font = fontFor(p); ctx.fillText(p.t, cx, p.sub ? size * 0.33 : 0); cx += p.w; });
  ctx.restore();
  return w;
}

function drawArrowLine(ctx, pts) {
  ctx.beginPath();
  pts.forEach((p, i) => i ? ctx.lineTo(p[0], p[1]) : ctx.moveTo(p[0], p[1]));
  ctx.stroke();
  const [x1, y1] = pts[pts.length - 2], [x2, y2] = pts[pts.length - 1];
  const a = Math.atan2(y2 - y1, x2 - x1), L = 10, s = 0.38;
  ctx.beginPath();
  ctx.moveTo(x2 - L * Math.cos(a - s), y2 - L * Math.sin(a - s));
  ctx.lineTo(x2, y2);
  ctx.lineTo(x2 - L * Math.cos(a + s), y2 - L * Math.sin(a + s));
  ctx.stroke();
}

function drawNormTitle(ctx, cx, cy) {
  const segs = [
    {t:'Normalized sheaer stress', s:40}, {t:'  [', s:44}, {t:'V', s:44}, {t:'u', s:30, sub:true},
    {t:'/', s:44}, {t:'\u221A', s:44}, {t:"f'", s:44, ov:true}, {t:'c', s:30, sub:true, ov:true},
    {t:' A', s:44}, {t:'cw', s:30, sub:true}, {t:']', s:44}
  ];
  ctx.save();
  ctx.translate(cx, cy); ctx.rotate(-Math.PI / 2);
  let w = 0;
  segs.forEach(g => { ctx.font = g.s + 'px ' + SERIF; g.w = ctx.measureText(g.t).width; w += g.w; });
  let x = -w / 2, ovS = null, ovE = null;
  ctx.fillStyle = '#222'; ctx.textBaseline = 'alphabetic';
  segs.forEach(g => {
    ctx.font = g.s + 'px ' + SERIF;
    ctx.fillText(g.t, x, g.sub ? 20 : 13);
    if (g.ov) { if (ovS === null) ovS = x; ovE = x + g.w; }
    x += g.w;
  });
  ctx.strokeStyle = '#222'; ctx.lineWidth = 2;
  seg(ctx, ovS - 3, -18, ovE + 2, -18);
  ctx.restore();
}

function splitPath(pts) {
  const out = []; let cur = [pts[0]];
  for (let i = 1; i < pts.length; i++) {
    cur.push(pts[i]);
    if (i < pts.length - 1) {
      const d1 = pts[i][1] - pts[i - 1][1], d2 = pts[i + 1][1] - pts[i][1];
      if (d1 * d2 < 0) { out.push(cur); cur = [pts[i]]; }
    }
  }
  out.push(cur);
  return out;
}

function lineDS(pts, color, width, extra) {
  return Object.assign({
    data: pts.map(p => ({x: p[0], y: p[1]})), showLine: true, borderColor: color,
    backgroundColor: color, borderWidth: width, pointRadius: 0, pointHoverRadius: 0,
    fill: false, tension: 0
  }, extra || {});
}

function decorPlugin(P) {
  return {
    id: 'decor' + P.id,
    beforeDatasetsDraw(chart) {
      const ctx = chart.ctx, a = chart.chartArea, X = chart.scales.x, Y = chart.scales.y;
      const x0 = X.getPixelForValue(0), y0 = Y.getPixelForValue(0);
      ctx.save();
      ctx.strokeStyle = '#4d4d4d'; ctx.lineWidth = 1.6;
      seg(ctx, a.left, y0, a.right, y0); seg(ctx, x0, a.top, x0, a.bottom);
      ctx.lineWidth = 1.3;
      for (let v = Math.ceil(P.xmin); v <= P.xmax; v++) {
        if (v === 0) continue;
        const px = X.getPixelForValue(v); seg(ctx, px, y0 - 7, px, y0 + 7);
      }
      P.zeroY.forEach(v => { const py = Y.getPixelForValue(v); seg(ctx, x0 - 7, py, x0 + 7, py); });
      ctx.restore();
    },
    afterDatasetsDraw(chart) {
      const ctx = chart.ctx, a = chart.chartArea, X = chart.scales.x, Y = chart.scales.y;
      ctx.save();
      ctx.strokeStyle = '#555'; ctx.lineWidth = 2;
      ctx.strokeRect(a.left, a.top, a.right - a.left, a.bottom - a.top);
      ctx.lineWidth = 1.4;
      for (let v = Math.ceil(P.xmin); v <= P.xmax; v++) {
        const px = X.getPixelForValue(v), len = (v % 2 === 0) ? 25 : 13;
        seg(ctx, px, a.bottom, px, a.bottom - len);
      }
      if (P.yLabels) {
        for (let v = P.ymin; v <= P.ymax; v += P.leftMinor) {
          const py = Y.getPixelForValue(v), len = (v % P.leftMajor === 0) ? 26 : 14;
          seg(ctx, a.left, py, a.left + len, py);
        }
        P.yLabels.forEach(v => drawRich(ctx, P.yFmt(v), a.left - 7, Y.getPixelForValue(v), 29, {align:'right', color:'#222'}));
      }
      if (P.rFactor) {
        for (let k = -P.rMax; k <= P.rMax; k++) {
          const py = Y.getPixelForValue(k / 10 * P.rFactor), len = (k % 2 === 0) ? 24 : 13;
          seg(ctx, a.right, py, a.right - len, py);
        }
        P.rLabels.forEach(v => {
          const txt = v === 0 ? '0' : v.toFixed(1);
          ctx.save();
          ctx.font = '27px "DejaVu Serif", serif'; ctx.fillStyle = '#222';
          ctx.textAlign = 'right'; ctx.textBaseline = 'middle';
          ctx.translate(1696, Y.getPixelForValue(v * P.rFactor)); ctx.scale(1, STRETCH);
          ctx.fillText(txt, 0, 0);
          ctx.restore();
        });
        drawNormTitle(ctx, P.normTitle.x, P.normTitle.y);
      }
      P.xLabels.forEach(v => drawRich(ctx, String(v), X.getPixelForValue(v), a.bottom + P.xLabDy, 29, {align:'center'}));
      P.titles.forEach(T => {
        if (T.rot) {
          ctx.save(); ctx.translate(T.x, T.y); ctx.rotate(-Math.PI / 2);
          ctx.font = T.s + 'px ' + SERIF; ctx.fillStyle = '#222';
          ctx.textAlign = 'center'; ctx.textBaseline = 'middle';
          ctx.fillText(T.t, 0, 0); ctx.restore();
        } else {
          drawRich(ctx, T.t, T.x, T.y, T.s, {align:'center'});
        }
      });
      const lx = X.getPixelForValue(P.label.x), ly = Y.getPixelForValue(P.label.y);
      const wb = drawRich(ctx, P.label.b, lx, ly, 36, {bold:true, color:'#111'});
      drawRich(ctx, P.label.r, lx + wb, ly, 36, {color:'#222'});
      ctx.strokeStyle = '#5a5a5a'; ctx.lineWidth = 1.2;
      P.lead.forEach(L => drawArrowLine(ctx, L.map(p => [X.getPixelForValue(p[0]), Y.getPixelForValue(p[1])])));
      P.ann.forEach(A => drawRich(ctx, A.t, X.getPixelForValue(A.x), Y.getPixelForValue(A.y), 28,
        {italic:true, color:'#333', rot: A.rot ? A.rot * Math.PI / 180 : 0, stretch: A.rot ? 1 : STRETCH}));
      ctx.restore();
    }
  };
}

// ---------------- build charts ----------------
panels.forEach(P => {
  const datasets = [];
  splitPath(P.loops).forEach(piece => datasets.push(lineDS(piece, '#0d0d0d', 1.7, {tension: 0.35, order: 4})));
  P.dash.forEach(s => datasets.push(lineDS(s, '#2d8a43', 2.2, {borderDash: [10, 6], order: 3})));
  datasets.push(lineDS(P.env, '#1f24a8', 4, {order: 2, borderJoinStyle: 'round'}));
  datasets.push({
    data: P.mark.map(p => ({x: p[0], y: p[1]})), showLine: false, pointStyle: 'rect',
    pointRadius: 4.5, borderColor: '#9a6a7a', backgroundColor: 'rgba(210,160,180,0.55)',
    borderWidth: 1.5, order: 1
  });
  new Chart(document.getElementById(P.id), {
    type: 'scatter',
    data: { datasets },
    options: {
      responsive: false, animation: false, devicePixelRatio: 1, events: [],
      layout: { padding: { left: P.area.l, top: P.area.t, right: 1772 - P.area.r, bottom: 1764 - P.area.b } },
      scales: {
        x: { type: 'linear', min: P.xmin, max: P.xmax, display: false },
        y: { type: 'linear', min: P.ymin, max: P.ymax, display: false }
      },
      plugins: { legend: { display: false }, tooltip: { enabled: false } }
    },
    plugins: [decorPlugin(P)]
  });
});
</script>
</body>
</html>
